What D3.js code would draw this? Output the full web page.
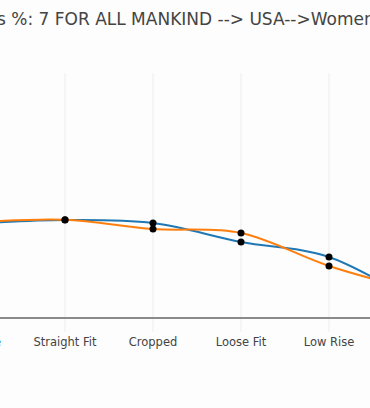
<!DOCTYPE html>
<html>
<head>
<meta charset="utf-8">
<script src="https://cdn.jsdelivr.net/npm/d3@7"></script>
<style>
  html, body { margin: 0; padding: 0; background: #fcfdfc; overflow: hidden; }
  svg { display: block; }
</style>
</head>
<body>
<svg id="chart" width="370" height="408"></svg>
<script>
// categories (first and last sit just outside the visible window)
const categories = ["Mid Rise", "Straight Fit", "Cropped", "Loose Fit", "Low Rise", "Flare"];
const seriesBlue = [9.65, 10.0, 9.69, 7.76, 6.22, 1.6];
const seriesOrange = [9.75, 10.02, 9.08, 8.67, 5.31, 2.8];
const titleText = "s %: 7 FOR ALL MANKIND --> USA-->Women";

const svg = d3.select("#chart");
const margin = {top: 73, bottom: 90};
const height = +svg.attr("height");

const x = d3.scalePoint()
    .domain(categories)
    .range([-23, 417]);

const y = d3.scaleLinear()
    .domain([0, 25])
    .range([height - margin.bottom, margin.top]);

// grid lines + outside ticks
svg.append("g")
    .selectAll("line")
    .data(categories)
    .enter().append("line")
    .attr("x1", d => x(d)).attr("x2", d => x(d))
    .attr("y1", margin.top).attr("y2", y(0) + 14)
    .attr("stroke", "#eceef0")
    .attr("stroke-width", 1);

// x axis line
svg.append("line")
    .attr("x1", 0).attr("x2", 370)
    .attr("y1", y(0)).attr("y2", y(0))
    .attr("stroke", "#8a8a8a")
    .attr("stroke-width", 2);

// x labels
svg.append("g")
    .selectAll("text")
    .data(categories)
    .enter().append("text")
    .attr("x", d => x(d))
    .attr("y", y(0) + 28)
    .attr("text-anchor", "middle")
    .attr("font-family", "DejaVu Sans, Verdana, sans-serif")
    .attr("font-size", 11.5)
    .attr("fill", (d, i) => i === 0 ? "#2a78c8" : "#444")
    .text(d => d);

const line = d3.line()
    .x((d, i) => x(categories[i]))
    .y(d => y(d))
    .curve(d3.curveCardinal.tension(0));

svg.append("path")
    .datum(seriesBlue)
    .attr("d", line)
    .attr("fill", "none")
    .attr("stroke", "#1f77b4")
    .attr("stroke-width", 2);

svg.append("path")
    .datum(seriesOrange)
    .attr("d", line)
    .attr("fill", "none")
    .attr("stroke", "#ff7f0e")
    .attr("stroke-width", 2);

// markers
[seriesBlue, seriesOrange].forEach(s => {
    svg.append("g")
        .selectAll("circle")
        .data(s)
        .enter().append("circle")
        .attr("cx", (d, i) => x(categories[i]))
        .attr("cy", d => y(d))
        .attr("r", 3.5)
        .attr("fill", "#000");
});

// title (cut at the window edges)
svg.append("text")
    .attr("x", -3)
    .attr("y", 25)
    .attr("font-family", "DejaVu Sans, Verdana, sans-serif")
    .attr("font-size", 17)
    .attr("fill", "#444")
    .text(titleText);
</script>
</body>
</html>
